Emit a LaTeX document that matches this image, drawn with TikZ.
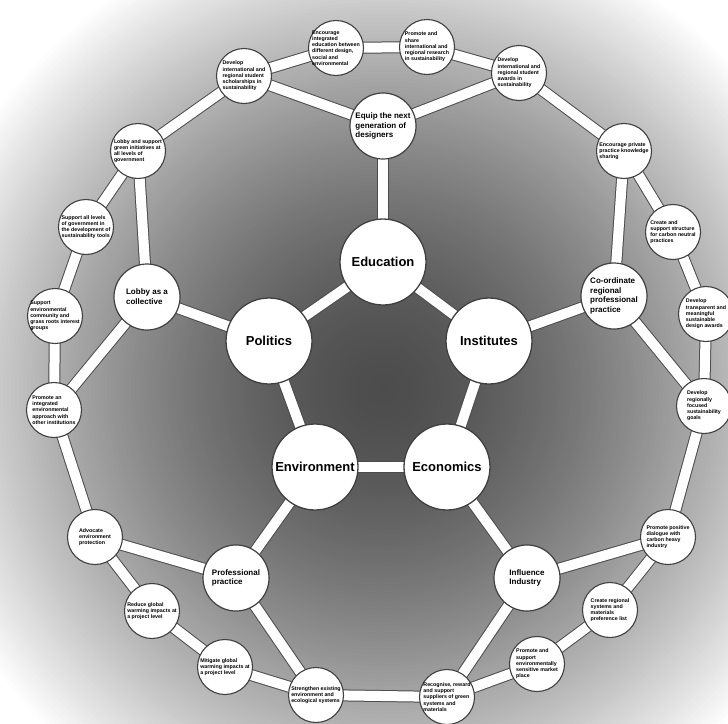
\documentclass[tikz,border=0pt]{standalone}
\usepackage{fontspec}
\setmainfont{Liberation Sans}
\pgfdeclarelayer{bgl}
\pgfdeclarelayer{connl}
\pgfsetlayers{bgl,connl,main}
\tikzset{
 outer/.style={circle, draw=black!75, line width=1.1pt, fill=white, minimum size=55pt, inner sep=-4pt, align=left, font=\fontsize{5.3}{6.2}\selectfont\bfseries},
 middle/.style={circle, draw=black!75, line width=1.2pt, fill=white, minimum size=66pt, inner sep=-4pt, align=left, font=\fontsize{8}{9.8}\selectfont\bfseries},
 core/.style={circle, draw=black!75, line width=1.3pt, fill=white, minimum size=86pt, inner sep=0pt, font=\fontsize{13}{15}\selectfont\bfseries},
 conn/.style={draw=black!70, line width=1pt, double=white, double distance=10pt},
}
\begin{document}
\begin{tikzpicture}[x=1pt,y=-1pt]
\useasboundingbox (0,0) rectangle (728,723);
\begin{pgfonlayer}{bgl}
\fill[white] (0,0) rectangle (728,723);
\foreach \r in {540,536,...,4}{
 \pgfmathsetmacro\p{100*(1-min(1,0.30+0.70*(\r/480)^1.6))}
 \fill[black!\p] (383,390) circle[radius=\r pt];
}
\end{pgfonlayer}
% core
\node[core] (edu) at (383,262) {Education};
\node[core] (pol) at (269,341) {Politics};
\node[core] (ins) at (489,341) {Institutes};
\node[core] (env) at (315,467) {Environment};
\node[core] (eco) at (447,467) {Economics};
% middle
\node[middle] (equip) at (383,126) {Equip the next\\generation of\\designers};
\node[middle] (lobc) at (147,297) {Lobby as a\\collective};
\node[middle] (coord) at (614,296) {Co-ordinate\\regional\\professional\\practice};
\node[middle] (prof) at (236,578) {Professional\\practice};
\node[middle] (infl) at (527,578) {Influence\\Industry};
% outer ring
\node[outer] (o1) at (244,76) {Develop\\international and\\regional student\\scholarships in\\sustainability};
\node[outer] (o2) at (336,48) {Encourage\\integrated\\education between\\different design,\\social and\\environmental};
\node[outer] (o3) at (427,47) {Promote and\\share\\international and\\regional research\\in sustainability};
\node[outer] (o4) at (519,73) {Develop\\international and\\regional student\\awards in\\sustainability};
\node[outer] (o5) at (624,151) {Encourage private\\practice knowledge\\sharing};
\node[outer] (o6) at (673,232) {Create and\\support structure\\for carbon neutral\\practices};
\node[outer] (o7) at (706,314) {Develop\\transparent and\\meaningful\\sustainable\\design awards};
\node[outer] (o8) at (704,406) {Develop\\regionally\\focused\\sustainability\\goals};
\node[outer] (o9) at (668,537) {Promote positive\\dialogue with\\carbon heavy\\industry};
\node[outer] (o10) at (610,610) {Create regional\\systems and\\materials\\preference list};
\node[outer] (o11) at (537,664) {Promote and\\support\\environmentally\\sensitive market\\place};
\node[outer] (o12) at (447,697) {Recognise, reward\\and support\\suppliers of green\\systems and\\materials};
\node[outer] (o13) at (316,695) {Strengthen existing\\environment and\\ecological systems};
\node[outer] (o14) at (225,667) {Mitigate global\\warming impacts at\\a project level};
\node[outer] (o15) at (152,611) {Reduce global\\warming impacts at\\a project level};
\node[outer] (o16) at (95,537) {Advocate\\environment\\protection};
\node[outer] (o17) at (54,410) {Promote an\\integrated\\environmental\\approach with\\other institutions};
\node[outer] (o18) at (55,316) {Support\\environmental\\community and\\grass roots interest\\groups};
\node[outer] (o19) at (86,227) {Support all levels\\of government in\\the development of\\sustainability tools};
\node[outer] (o20) at (138,151) {Lobby and support\\green initiatives at\\all levels of\\government};
\begin{pgfonlayer}{connl}
\foreach \a/\b in {edu/pol, edu/ins, ins/eco, eco/env, env/pol,
  edu/equip, pol/lobc, ins/coord, env/prof, eco/infl,
  equip/o1, equip/o4, lobc/o20, lobc/o17, coord/o5, coord/o8,
  prof/o16, prof/o13, infl/o9, infl/o12,
  o1/o2, o2/o3, o3/o4, o4/o5, o5/o6, o6/o7, o7/o8, o8/o9, o9/o10, o10/o11,
  o11/o12, o12/o13, o13/o14, o14/o15, o15/o16, o16/o17, o17/o18, o18/o19, o19/o20, o20/o1}
  \draw[conn] (\a.center) -- (\b.center);
\end{pgfonlayer}
\end{tikzpicture}
\end{document}
